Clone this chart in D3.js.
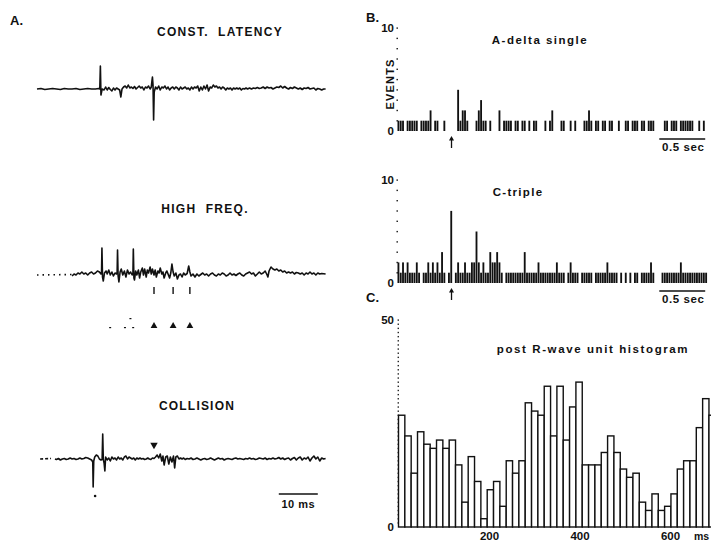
<!DOCTYPE html>
<html>
<head>
<meta charset="utf-8">
<script src="https://cdn.jsdelivr.net/npm/d3@7"></script>
<style>
  body { margin: 0; background: #fff; }
  svg text { font-family: "Liberation Sans", Arial, sans-serif; font-weight: bold; fill: #111; }
</style>
</head>
<body>
<svg id="fig" width="711" height="545"></svg>
<script>
// ---------------- data ----------------
// panel A traces: [time ms, amplitude]
var constLatency = [[0,0],[1,0.5],[2,-0.5],[3,0],[4,0.5],[5,0],[6,-0.5],[7,0.5],[8,0],[9,0],[10,0.5],[11,-0.5],[12,0],[13,0.5],[14,0],[15,0],[15.8,0.5],[16.1,0],[16.25,23],[16.4,-6],[16.7,0],[17.2,-1],[17.6,2],[18,-1],[18.4,1.5],[18.8,-0.5],[19.2,-2],[19.6,1],[20,-1],[20.4,1],[20.8,0],[21.2,-1],[21.5,-8],[21.8,0],[22.2,2],[22.6,3],[23,1],[23.4,4],[23.8,1],[24.2,2],[24.6,0.5],[25,2.5],[25.4,0],[25.8,1.5],[26.2,3],[26.6,1],[27,2],[27.4,-1],[27.8,2],[28.2,1],[28.6,3],[29,0],[29.3,2],[29.5,9],[29.6,12],[29.75,4],[29.9,-31],[30.05,-3],[30.4,2],[30.8,0],[31.2,3],[31.6,-1],[32,2],[32.4,1],[32.8,3],[33.2,0],[33.6,2],[34,-1],[34.4,1],[34.8,2],[35.2,0],[35.6,2],[36,1],[36.4,-1],[36.8,2],[37.2,0],[37.6,1],[38,2],[38.4,0],[38.8,1],[39.2,-1],[39.6,2],[40,0],[40.4,2],[40.8,1],[41.2,3],[41.6,-2],[42,2],[42.4,-1],[42.8,3],[43.2,0],[43.6,4],[44,-2],[44.4,2],[44.8,1],[45.2,4],[45.6,2],[46,3],[46.4,1],[46.8,2],[47.2,0],[47.6,2],[48,1],[48.4,-1],[48.8,1],[49.2,0],[49.6,1],[50,-1],[50.4,1],[50.8,0],[51.2,1],[51.6,0],[52,1],[52.4,-1],[52.8,0.5],[53.2,0],[53.6,1],[54,0],[54.5,1],[55,0],[55.5,1],[56,0.5],[56.5,1.5],[57,0.5],[57.5,1],[58,2],[58.5,0.5],[59,2],[59.5,1],[60,1.5],[60.5,0],[61,1],[61.5,2],[62,1.5],[62.5,3],[63,1],[63.5,2.5],[64,1],[64.5,0],[65,1.5],[65.5,0.5],[66,2],[66.5,1],[67,0],[67.5,1],[68,-0.5],[68.5,1],[69,0.5],[69.5,1.5],[70,0],[70.5,0.5],[71,1],[71.5,-1],[72,0.5],[72.5,0],[73,-1],[73.5,0],[74,0]];

var highFreqLead = [[0,0],[9,0.5]];
var highFreq = [[9,-1],[9.5,1],[10,0],[10.5,2],[11,1],[11.5,3],[12,1],[12.5,2],[13,0],[13.5,2],[14,3],[14.5,1],[15,2],[15.5,4],[16,3],[16.4,1],[16.55,3],[16.65,27],[16.8,-2],[17,-6],[17.3,2],[17.7,4],[18,1],[18.4,5],[18.8,0],[19.2,3],[19.6,-1],[20,2],[20.4,1],[20.55,3],[20.65,25],[20.8,-1],[21,-7],[21.3,3],[21.6,6],[22,0],[22.4,4],[22.8,-2],[23.2,5],[23.6,1],[24,3],[24.4,0],[24.6,2],[24.7,26],[24.85,-3],[25,-5],[25.3,4],[25.6,0],[26,5],[26.3,-3],[26.6,3],[27,7],[27.3,0],[27.6,6],[28,-2],[28.3,5],[28.6,2],[29,8],[29.3,1],[29.6,6],[30,0],[30.3,5],[30.6,-2],[31,4],[31.3,2],[31.6,7],[32,1],[32.3,3],[32.6,-3],[33,2],[33.3,4],[33.6,1],[34,-3],[34.3,2],[34.6,11],[34.9,3],[35.2,-1],[35.6,2],[36,-4],[36.4,0],[36.8,1],[37.2,-2],[37.6,2],[38,0],[38.5,1.5],[38.9,9],[39.2,3],[39.5,-1],[40,1],[40.5,-2],[41,1],[41.5,-1],[42,0.5],[42.5,2],[43,0],[43.5,1],[44,-1],[44.5,1],[45,2],[45.5,0],[46,-1],[46.5,1],[47,0],[47.5,2],[48,1],[48.5,-1],[49,0],[49.5,2],[50,0],[50.5,1],[51,-0.5],[51.5,1],[52,2],[52.5,0],[53,-1],[53.5,1],[54,2],[54.5,3],[55,1],[55.5,2],[56,-1],[56.5,1],[57,3],[57.5,1],[58,2],[58.5,4],[59,0],[59.2,-2],[59.5,4],[60,8],[60.5,6],[61,5],[61.5,6],[62,4],[62.5,5],[63,3],[63.5,4],[64,2],[64.5,3],[65,2],[65.5,3],[66,1],[66.5,2.5],[67,2],[67.5,1],[68,2],[68.5,0],[69,2],[69.5,1],[70,3],[70.5,1],[71,2],[71.5,0],[72,2],[72.5,1],[73,1.5],[74,1]];
var highFreqTicks = [30.0, 34.9, 39.2];   // ms, stimulus marks below trace

var collisionLead = [[0.8,0],[3.6,0.5]];
var collision = [[4.6,0],[5,-0.5],[5.5,0.5],[6,-1],[6.5,0],[7,0.5],[7.5,-0.5],[8,0],[8.5,1],[9,0],[9.5,0.5],[10,-0.5],[10.5,0],[11,1],[11.5,0],[12,0.5],[12.5,1.5],[13,1],[13.5,0],[14,-1],[14.3,-3],[14.4,-28],[14.55,-2],[14.8,2],[15.2,4],[15.6,3],[16,0],[16.4,-1],[16.7,-0.5],[16.85,25],[17,0],[17.2,-4],[17.4,-12],[17.6,2],[18,-1],[18.4,1],[18.8,-2],[19.2,2],[19.6,0],[20,1],[20.4,-1],[20.8,2],[21.2,0],[21.6,1],[22,-1],[22.4,2],[22.8,3],[23.2,0],[23.6,2],[24,1],[24.4,0],[24.8,1],[25.2,-1],[25.6,1],[26,0],[26.4,1],[26.8,0],[27.2,0.5],[27.6,-0.5],[28,0],[28.4,1],[28.8,0],[29.2,-0.5],[29.6,1],[30,0.5],[30.4,2],[30.8,4],[31.2,1],[31.6,5],[32,-2],[32.3,3],[32.6,-6],[33,2],[33.4,3],[33.8,-5],[34.2,2],[34.6,-3],[35,3],[35.3,-9],[35.6,2],[36,3],[36.4,0],[36.8,1],[37.2,0],[37.6,1],[38,-0.5],[38.5,0.5],[39,0],[39.5,1],[40,-0.5],[40.5,0],[41,1],[41.5,0],[42,-1],[42.5,0],[43,0.5],[43.5,-0.5],[44,0],[44.5,1],[45,0],[45.5,-1],[46,0],[46.5,1],[47,0],[47.5,0.5],[48,-1],[48.5,0],[49,0.5],[49.5,0],[50,-0.5],[50.5,0.5],[51,1],[51.5,0],[52,0.5],[52.5,0],[53,-0.5],[53.5,0.5],[54,0],[54.5,1],[55,0],[55.5,0.5],[56,-0.5],[56.5,0],[57,1],[57.5,0.5],[58,0],[58.5,1],[59,-0.5],[59.5,0.5],[60,0],[60.5,1],[61,0],[61.5,0.5],[62,1.5],[62.5,0],[63,1],[63.5,-0.5],[64,0.5],[64.5,1],[65,-1],[65.5,0.5],[66,1.5],[66.5,-1],[67,1],[67.5,2],[68,-1],[68.5,1],[69,0],[69.5,2],[70,-2],[70.5,1],[71,3],[71.5,0],[72,2],[72.5,-2],[73,1],[73.5,0],[74,0.5]];
var collisionMarkMs = 30.0;
var collisionDot = [14.9, -37];

// panel B: peri-stimulus histograms, 25 ms bins
var psthBinMs = 25;
var stimMs = 588;
var aDeltaCounts = [1,1,1,0,1,1,1,1,1,0,1,1,1,1,2,0,1,1,0,0,1,0,0,0,0,0,4,1,2,2,1,0,0,0,1,2,3,1,1,0,1,0,0,0,2,0,1,1,1,1,0,1,1,0,1,1,0,1,0,1,1,0,0,0,1,0,1,2,0,0,0,1,1,0,0,1,0,1,0,0,0,1,1,2,1,0,1,1,0,1,1,0,1,1,0,0,1,0,0,1,1,0,1,1,1,0,1,1,0,1,1,1,0,0,0,0,1,1,0,1,1,1,0,1,1,1,1,1,1,0,0,1,0,1,0];
var cTripleCounts = [2,1,2,1,2,1,1,1,2,1,0,1,1,2,1,2,1,2,1,3,1,0,1,7,0,1,2,1,1,2,1,1,2,2,5,2,1,2,1,1,3,2,2,3,2,1,0,1,1,1,1,1,1,1,1,3,1,1,1,1,1,2,1,1,1,1,1,1,1,2,1,1,1,0,1,2,1,1,1,0,1,1,1,1,1,0,1,1,1,1,1,2,1,1,1,1,0,1,0,1,0,1,0,1,1,0,1,1,1,1,2,1,0,0,0,1,1,1,1,1,1,1,1,2,1,1,1,1,1,1,1,1,1,1,1];
var psthTicks = [0, 10];
var scaleBarMs = [2850, 3350];

// panel C: post R-wave histogram, 14 ms bins
var rwaveBinMs = 14;
var rwaveCounts = [27,22,13,23,20,19,21,19,21,15,6,17,11,2,9,11,5,16,13,16,30,28,27,34,22,34,21,29,35,15,15,15,18,22,18,14,12,13,6,4,8,4,5,8,14,16,16,24,31,27];
var rwaveXTicks = [200, 400, 600];
var rwaveYTicks = [0, 50];

// ---------------- drawing ----------------
var svg = d3.select("#fig");
svg.append("rect").attr("width", 711).attr("height", 545).attr("fill", "#fff");
var ink = "#111";

function label(x, y, txt, size, anchor, spacing) {
  return svg.append("text")
    .attr("x", x).attr("y", y)
    .attr("font-size", size)
    .attr("text-anchor", anchor || "start")
    .attr("letter-spacing", spacing || 0)
    .text(txt);
}

// ---- panel A ----
var tx = d3.scaleLinear().domain([0, 10]).range([37, 76]);
function drawTrace(pts, base, dash) {
  var ty = d3.scaleLinear().domain([-40, 40]).range([base + 40, base - 40]);
  svg.append("path").datum(pts)
    .attr("d", d3.line().x(d => tx(d[0])).y(d => ty(d[1])))
    .attr("fill", "none").attr("stroke", ink)
    .attr("stroke-width", 1.6).attr("stroke-linejoin", "round")
    .attr("stroke-dasharray", dash || null);
  return ty;
}

label(10, 25, "A.", 13);
label(220, 36, "CONST.  LATENCY", 12, "middle", 1.3).style("white-space", "pre");
drawTrace(constLatency, 89);

label(205, 213, "HIGH  FREQ.", 12, "middle", 1.3).style("white-space", "pre");
drawTrace(highFreqLead, 275, "1.5,4");
drawTrace(highFreq, 275);
highFreqTicks.forEach(function(t) {
  svg.append("line").attr("x1", tx(t)).attr("x2", tx(t)).attr("y1", 287).attr("y2", 294)
    .attr("stroke", ink).attr("stroke-width", 1.4);
  svg.append("path").attr("d", d3.symbol(d3.symbolTriangle, 20)())
    .attr("transform", "translate(" + tx(t) + ",326)").attr("fill", ink);
});
[[18.5, 327], [22.3, 327], [24.4, 327], [23.7, 318]].forEach(function(p) {
  svg.append("rect").attr("x", tx(p[0])).attr("y", p[1]).attr("width", 2).attr("height", 1.2).attr("fill", ink);
});

label(197, 410, "COLLISION", 12, "middle", 1.2);
drawTrace(collisionLead, 459, "3,2");
var cy = drawTrace(collision, 459);
svg.append("path").attr("d", d3.symbol(d3.symbolTriangle, 24)())
  .attr("transform", "translate(" + tx(collisionMarkMs) + ",445) rotate(180)").attr("fill", ink);
svg.append("circle").attr("cx", tx(collisionDot[0])).attr("cy", cy(collisionDot[1])).attr("r", 1.3).attr("fill", ink);
svg.append("line").attr("x1", tx(62)).attr("x2", tx(72)).attr("y1", 494).attr("y2", 494)
  .attr("stroke", ink).attr("stroke-width", 1.6);
label(tx(67), 508, "10 ms", 11, "middle", 0.5);

// ---- panel B ----
var px = d3.scaleLinear().domain([0, psthBinMs * aDeltaCounts.length]).range([397.5, 707.5]);
function drawPsth(counts, base, title, titleX, spacing) {
  var py = d3.scaleLinear().domain([0, 10]).range([base, base - 103]);
  var bw = px(psthBinMs) - px(0);
  svg.append("g").selectAll("rect").data(counts).join("rect")
    .attr("x", (d, i) => px(i * psthBinMs))
    .attr("y", d => py(d))
    .attr("width", bw - 0.45)
    .attr("height", d => py(0) - py(d))
    .attr("fill", ink);
  // dotted unit axis
  svg.append("g").selectAll("rect").data(d3.range(1, 11)).join("rect")
    .attr("x", 396.5).attr("y", d => py(d) - 0.6).attr("width", 1.4).attr("height", 1.4).attr("fill", ink);
  psthTicks.forEach(function(v) {
    label(394, py(v) + 4, String(v), 11.5, "end");
  });
  label(titleX, base - 87, title, 11.5, "middle", spacing);
  // stimulus arrow
  var ax = px(stimMs);
  svg.append("line").attr("x1", ax).attr("x2", ax).attr("y1", base + 7).attr("y2", base + 17)
    .attr("stroke", ink).attr("stroke-width", 1.3);
  svg.append("path").attr("d", d3.symbol(d3.symbolTriangle, 11)())
    .attr("transform", "translate(" + ax + "," + (base + 8) + ")").attr("fill", ink);
  // time scale bar
  svg.append("line").attr("x1", px(scaleBarMs[0])).attr("x2", px(scaleBarMs[1]))
    .attr("y1", base + 8).attr("y2", base + 8).attr("stroke", ink).attr("stroke-width", 1.6);
  label((px(scaleBarMs[0]) + px(scaleBarMs[1])) / 2 + 1, base + 20, "0.5 sec", 11.5, "middle", 0.6);
  return py;
}
label(366, 22, "B.", 13);
drawPsth(aDeltaCounts, 131, "A-delta single", 540, 1.5);
svg.append("text").attr("transform", "translate(394,84) rotate(-90)")
  .attr("font-size", 11).attr("text-anchor", "middle").attr("letter-spacing", 1.2).text("EVENTS");
drawPsth(cTripleCounts, 283, "C-triple", 518, 1.3);

// ---- panel C ----
var hx = d3.scaleLinear().domain([0, 700]).range([398.5, 715.3]);
var hy = d3.scaleLinear().domain([0, 50]).range([527, 320]);
label(366, 302, "C.", 13);
svg.append("g").selectAll("rect").data(rwaveCounts).join("rect")
  .attr("x", (d, i) => hx(i * rwaveBinMs))
  .attr("y", d => hy(d))
  .attr("width", hx(rwaveBinMs) - hx(0))
  .attr("height", d => hy(0) - hy(d))
  .attr("fill", "#fff").attr("stroke", ink).attr("stroke-width", 1.4);
svg.append("g").selectAll("rect").data(d3.range(1, 51)).join("rect")
  .attr("x", 397.6).attr("y", d => hy(d) - 0.6).attr("width", 1.3).attr("height", 1.4).attr("fill", ink);
rwaveYTicks.forEach(function(v) {
  label(394, hy(v) + 4, String(v), 11.5, "end");
});
var xAxis = svg.append("g").attr("transform", "translate(0,527)")
  .call(d3.axisBottom(hx).tickValues(rwaveXTicks).tickSize(0).tickPadding(5));
xAxis.select(".domain").remove();
xAxis.selectAll("text").attr("font-size", 11.5).attr("font-family", null).attr("fill", ink);
label(694, 540, "ms", 10.5);
label(593, 353, "post R-wave unit histogram", 11.5, "middle", 1.6);
</script>
</body>
</html>
